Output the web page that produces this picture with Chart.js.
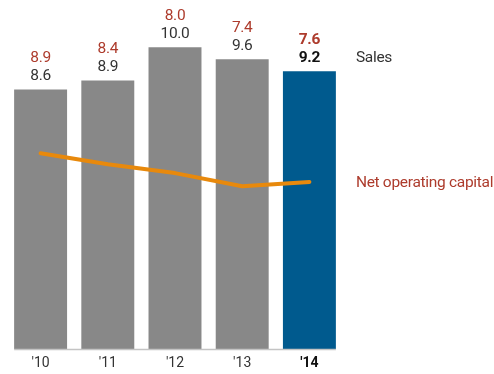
<!DOCTYPE html>
<html>
<head>
<meta charset="utf-8">
<script src="https://cdn.jsdelivr.net/npm/chart.js@4.4.1/dist/chart.umd.min.js"></script>
<style>
  html, body { margin: 0; padding: 0; background: #ffffff; }
  #wrap { width: 494px; height: 374px; }
</style>
</head>
<body>
<div id="wrap"><canvas id="salesChart"></canvas></div>
<script>
// years, sales and net operating capital
var years = ["'10", "'11", "'12", "'13", "'14"];
var sales = [8.6, 8.9, 10.0, 9.6, 9.2];
var netCapital = [8.9, 8.4, 8.0, 7.4, 7.6];

var GREY_BAR = '#888888';
var BLUE_BAR = '#005a8e';
var ORANGE = '#e8890c';
var RED_TEXT = '#ad3b2c';
var FONT = 'Roboto, "Open Sans", sans-serif';

var barColors = sales.map(function (v, i) {
    return i === sales.length - 1 ? BLUE_BAR : GREY_BAR;
});

// value labels, series names and the short base line under the bars
var annotate = {
    id: 'annotate',
    afterDatasetsDraw: function (chart) {
        var ctx = chart.ctx;
        var bars = chart.getDatasetMeta(1).data;
        var points = chart.getDatasetMeta(0).data;
        var last = bars.length - 1;
        var zeroY = chart.scales.y.getPixelForValue(0);

        ctx.save();
        ctx.strokeStyle = '#c4c4c4';
        ctx.lineWidth = 1.5;
        ctx.beginPath();
        ctx.moveTo(bars[0].x - bars[0].width / 2, zeroY + 0.5);
        ctx.lineTo(bars[last].x + bars[last].width / 2, zeroY + 0.5);
        ctx.stroke();

        ctx.textAlign = 'center';
        ctx.textBaseline = 'middle';
        ctx.letterSpacing = '-0.3px';
        bars.forEach(function (bar, i) {
            var bold = i === last ? 'bold ' : '';
            ctx.font = bold + '15.5px ' + FONT;
            ctx.fillStyle = i === last ? '#111111' : '#333333';
            ctx.fillText(sales[i].toFixed(1), bar.x, bar.y - 13);
            ctx.fillStyle = RED_TEXT;
            ctx.fillText(netCapital[i].toFixed(1), bar.x, bar.y - 31);
        });

        var labelX = bars[last].x + bars[last].width / 2 + 20;
        ctx.textAlign = 'left';
        ctx.font = '15.5px ' + FONT;
        ctx.fillStyle = '#333333';
        ctx.fillText('Sales', labelX, bars[last].y - 13);
        ctx.fillStyle = RED_TEXT;
        ctx.fillText('Net operating capital', labelX, points[last].y + 1);
        ctx.restore();
    }
};

var ctx = document.getElementById('salesChart').getContext('2d');
var chart = new Chart(ctx, {
    type: 'bar',
    data: {
        labels: years,
        datasets: [
            {
                type: 'line',
                label: 'Net operating capital',
                data: netCapital,
                yAxisID: 'y2',
                borderColor: ORANGE,
                borderWidth: 4,
                borderCapStyle: 'round',
                borderJoinStyle: 'round',
                pointRadius: 0,
                tension: 0,
                order: 0
            },
            {
                label: 'Sales',
                data: sales,
                yAxisID: 'y',
                backgroundColor: barColors,
                borderWidth: 0,
                categoryPercentage: 1,
                barPercentage: 0.788,
                order: 1
            }
        ]
    },
    options: {
        responsive: true,
        maintainAspectRatio: false,
        animation: false,
        layout: { padding: { left: 7, right: 151, top: 17, bottom: 3 } },
        plugins: {
            legend: { display: false },
            tooltip: { enabled: false }
        },
        scales: {
            x: {
                grid: { display: false, drawTicks: false },
                border: { display: false },
                afterFit: function (scale) { scale.height = 22; },
                ticks: {
                    padding: 6,
                    color: function (c) { return c.index === years.length - 1 ? '#111111' : '#333333'; },
                    font: function (c) {
                        return { family: FONT, size: 14, weight: c.index === years.length - 1 ? 'bold' : 'normal' };
                    }
                }
            },
            y: { display: false, min: 0, max: 11 },
            y2: { display: false, min: 0, max: 15.1 }
        }
    },
    plugins: [annotate]
});
</script>
</body>
</html>
